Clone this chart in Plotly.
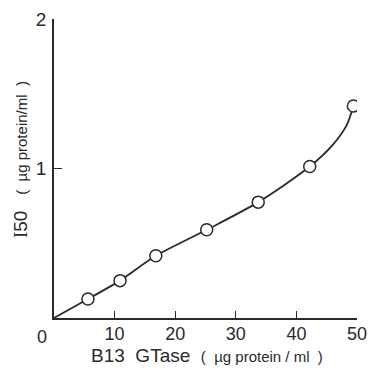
import plotly.graph_objects as go

# Measured points (B13 GTase vs I50)
x_points = [5.6, 10.9, 16.8, 25.2, 33.7, 42.2, 49.4]
y_points = [0.127, 0.25, 0.416, 0.59, 0.775, 1.013, 1.418]

# Fitted curve as drawn in the figure
curve_x = [0, 5.6, 10.9, 16.8, 25.2, 33.7, 42.2, 46.0, 48.3, 49.4]
curve_y = [0, 0.127, 0.25, 0.416, 0.59, 0.775, 1.013, 1.158, 1.29, 1.418]

x_ticks = [10, 20, 30, 40, 50]
y_ticks = [1, 2]

INK = "#2a2a2a"
FONT = "Liberation Sans"

fig = go.Figure()
fig.add_trace(go.Scatter(
    x=curve_x, y=curve_y, mode="lines",
    line=dict(color=INK, width=1.8, shape="spline", smoothing=0.8),
    hoverinfo="skip", showlegend=False,
))
fig.add_trace(go.Scatter(
    x=x_points, y=y_points, mode="markers",
    marker=dict(symbol="circle", size=12, color="white",
                line=dict(color=INK, width=1.5)),
    showlegend=False,
))

fig.update_layout(
    width=370, height=370,
    margin=dict(l=53.5, r=13, t=19, b=51.7, pad=0),
    paper_bgcolor="white", plot_bgcolor="white",
    font=dict(family=FONT, color=INK, size=18),
    xaxis=dict(
        range=[0, 50], tickvals=x_ticks, ticks="inside", ticklen=7,
        tickwidth=1.2, tickcolor=INK, showline=True, linecolor=INK,
        linewidth=1.5, showgrid=False, zeroline=False, automargin=False,
        tickfont=dict(size=18, family=FONT, color=INK),
        ticklabelstandoff=-1,
    ),
    yaxis=dict(
        range=[0, 2], tickvals=y_ticks, ticks="inside", ticklen=8,
        tickwidth=1.2, tickcolor=INK, showline=True, linecolor=INK,
        linewidth=1.5, showgrid=False, zeroline=False, automargin=False,
        tickfont=dict(size=19, family=FONT, color=INK),
        ticklabelstandoff=2,
    ),
    annotations=[
        dict(text="0", xref="x", yref="paper", x=0, y=0, xshift=-12,
             yanchor="top", yshift=-7, showarrow=False,
             font=dict(size=18, family=FONT, color=INK)),
        dict(text="B13  GTase  <span style='font-size:15px'>(  µg protein / ml  )</span>",
             xref="paper", yref="paper", x=0.505, y=-0.124,
             xanchor="center", yanchor="middle", showarrow=False,
             font=dict(size=19, family=FONT, color=INK)),
        dict(text="<span style='font-family:Liberation Serif'>I</span>50   "
                  "<span style='font-size:15px'>(  µg protein/ml  )</span>",
             xref="paper", yref="paper", x=-0.108, y=0.529, textangle=-90,
             xanchor="center", yanchor="middle", showarrow=False,
             font=dict(size=19, family=FONT, color=INK)),
    ],
)

# remove the default 8px page margin so the 370x370 figure fills the window
fig.write_html("out.html",
               config={"displayModeBar": False},
               post_script="document.body.style.margin='0';"
                           "document.body.style.overflow='hidden';")
